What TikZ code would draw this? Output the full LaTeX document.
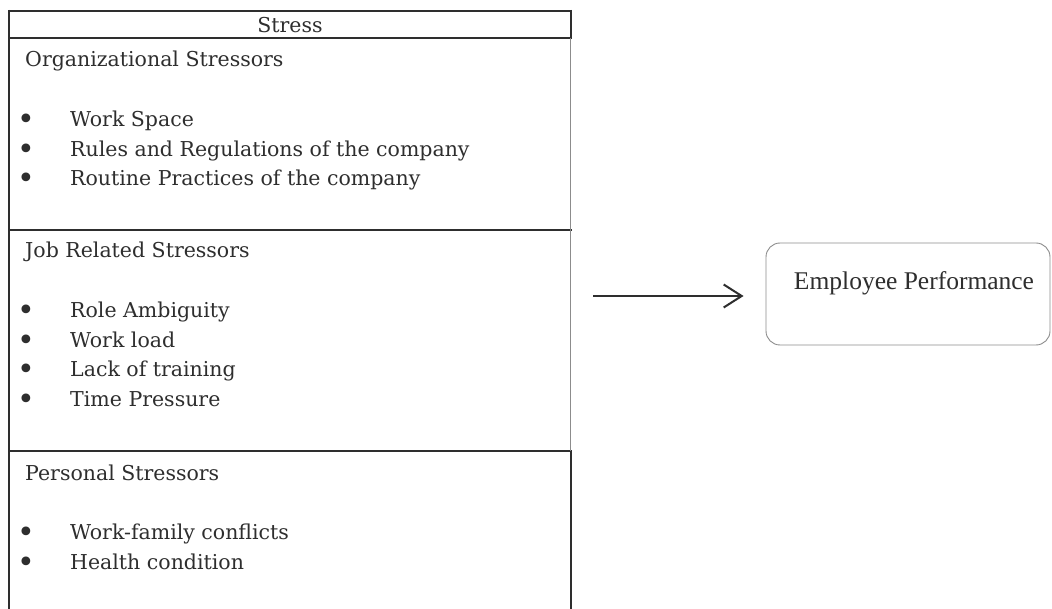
\documentclass[tikz,border=0pt]{standalone}
\usepackage{fontspec}
\setmainfont{DejaVu Serif}
\newfontfamily\epfont{Liberation Serif}
\usetikzlibrary{arrows.meta}
\definecolor{ink}{HTML}{2E2E2E}
\definecolor{edge}{HTML}{8C8C8C}
\tikzset{
  txt/.style={inner sep=0pt, anchor=base west, text=ink, font=\fontsize{20.5}{24}\selectfont},
  hdr/.style={inner sep=0pt, anchor=base, text=ink, font=\fontsize{20.5}{24}\selectfont},
  bul/.style={inner sep=0pt, anchor=base, text=ink, font=\fontsize{30}{30}\selectfont, yshift=-3pt},
  rule/.style={draw=ink, line width=2pt},
  siderule/.style={draw=ink, line width=1.4pt},
  grayrule/.style={draw=edge, line width=1.6pt},
  epbox/.style={draw=edge, line width=0.9pt, rounded corners=14pt, minimum width=284pt, minimum height=102pt, inner sep=0pt},
  arr/.style={draw=ink, line width=2pt, -{Straight Barb[length=18pt,width=23pt,line width=2pt]}}
}
\begin{document}
\begin{tikzpicture}[x=1pt,y=-1pt]
\useasboundingbox[fill=white] (0,0) rectangle (1052,609);
% table lines
\draw[rule] (8,11) -- (571.5,11);
\draw[rule] (8,38.5) -- (571.5,38.5);
\draw[rule] (8,230) -- (571.5,230);
\draw[rule] (8,451) -- (571.5,451);
\draw[siderule] (9,10) -- (9,609);
\draw[rule] (570.5,10) -- (570.5,39);
\draw[grayrule] (570.5,38.5) -- (570.5,451);
\draw[rule] (570.5,451) -- (570.5,609);
% header
\node[hdr] (stress) at (290,33) {Stress};
% organizational
\node[txt] (org) at (25,67) {Organizational Stressors};
\node[bul] (b1) at (26,127) {•};
\node[txt] (o1) at (70,127) {Work Space};
\node[bul] (b2) at (26,156.5) {•};
\node[txt] (o2) at (70,156.5) {Rules and Regulations of the company};
\node[bul] (b3) at (26,186) {•};
\node[txt] (o3) at (70,186) {Routine Practices of the company};
% job related
\node[txt] (job) at (25,258) {Job Related Stressors};
\node[bul] (b4) at (26,318) {•};
\node[txt] (j1) at (70,318) {Role Ambiguity};
\node[bul] (b5) at (26,347.5) {•};
\node[txt] (j2) at (70,347.5) {Work load};
\node[bul] (b6) at (26,377) {•};
\node[txt] (j3) at (70,377) {Lack of training};
\node[bul] (b7) at (26,406.5) {•};
\node[txt] (j4) at (70,406.5) {Time Pressure};
% personal
\node[txt] (per) at (25,480) {Personal Stressors};
\node[bul] (b8) at (26,539.5) {•};
\node[txt] (p1) at (70,539.5) {Work-family conflicts};
\node[bul] (b9) at (26,569) {•};
\node[txt] (p2) at (70,569) {Health condition};
% employee performance box
\node[epbox] (emp) at (908,294) {};
\node[inner sep=0pt, anchor=base, text=ink, font=\epfont\fontsize{25.5}{30}\selectfont] (emptxt) at (914,290) {Employee Performance};
\coordinate (tblR) at (570.5,296);
\draw[arr, shorten <=22.5pt, shorten >=22pt] (tblR) -- (emp.west |- tblR);
\end{tikzpicture}
\end{document}
